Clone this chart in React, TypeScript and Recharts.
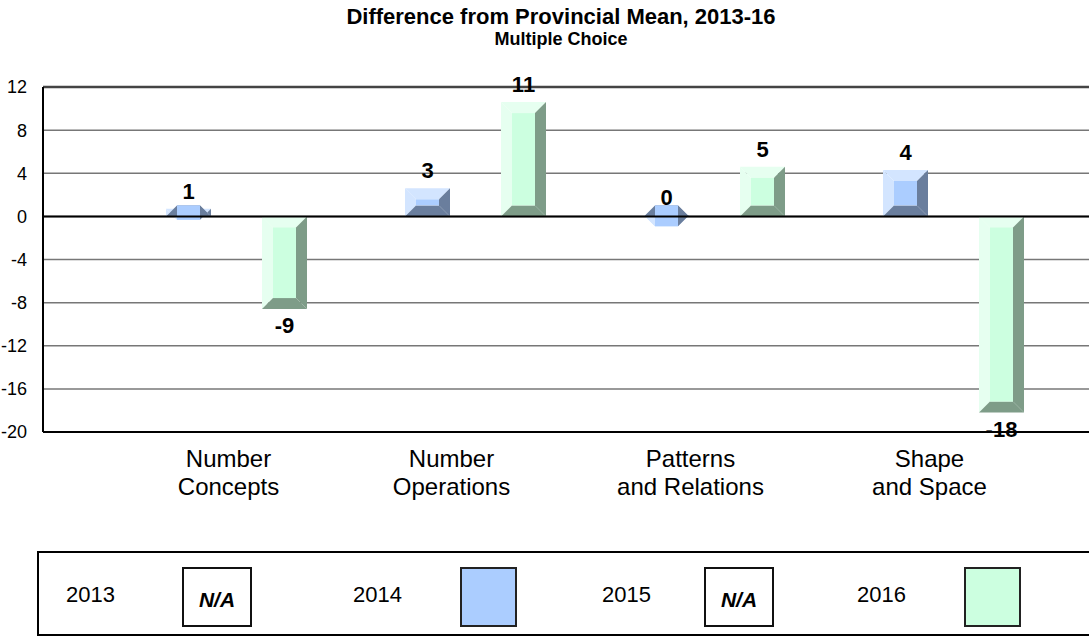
import React from 'react';
import { BarChart, Bar, XAxis, YAxis, CartesianGrid, ReferenceLine, LabelList } from 'recharts';

// categories and series values
const categories = ['Number\nConcepts', 'Number\nOperations', 'Patterns\nand Relations', 'Shape\nand Space'];
const years = ['2013', '2014', '2015', '2016'];
const values2013: (number | null)[] = [null, null, null, null];
const values2014: (number | null)[] = [0.7, 2.6, 0.1, 4.3];
const values2015: (number | null)[] = [null, null, null, null];
const values2016: (number | null)[] = [-8.6, 10.6, 4.6, -18.2];
const yTicks = [12, 8, 4, 0, -4, -8, -12, -16, -20];

const data = categories.map((name, i) => ({
  name,
  y2013: values2013[i],
  y2014: values2014[i],
  y2015: values2015[i],
  y2016: values2016[i],
}));

const FONT = "'Liberation Sans', Arial, Helvetica, sans-serif";

const blue = { mid: '#abcdff', light: '#d3e5ff', dark: '#6a7e9d' };
const green = { mid: '#ccffe0', light: '#e6fff0', dark: '#7e9c88' };

// Excel-style bevelled bar: light top/left, dark bottom/right
const bevelShape = (pal: { mid: string; light: string; dark: string }) => (props: any) => {
  const { x, y, width, height } = props;
  if (x == null || y == null || width == null || height == null) return null;
  const top = Math.min(y, y + height);
  const bot = Math.max(y, y + height);
  const l = x;
  const r = x + width;
  const b = 11;
  const it = top + b;
  const ib = bot - b;
  const il = l + b;
  const ir = r - b;
  return (
    <g>
      <polygon points={`${l},${top} ${r},${top} ${ir},${it} ${il},${it}`} fill={pal.light} />
      <polygon points={`${l},${top} ${il},${it} ${il},${ib} ${l},${bot}`} fill={pal.light} />
      <polygon points={`${r},${top} ${r},${bot} ${ir},${ib} ${ir},${it}`} fill={pal.dark} />
      <polygon points={`${l},${bot} ${r},${bot} ${ir},${ib} ${il},${ib}`} fill={pal.dark} />
      <rect x={il} y={Math.min(it, ib)} width={ir - il} height={Math.abs(ib - it)} fill={pal.mid} />
    </g>
  );
};

const valueLabel = (props: any) => {
  const { x, y, width, height, value } = props;
  if (value == null || x == null) return null;
  const top = Math.min(y, y + height);
  const bot = Math.max(y, y + height);
  const neg = value < 0;
  return (
    <text
      x={x + width / 2}
      y={neg ? bot + 24 : top - 10}
      textAnchor="middle"
      fontFamily={FONT}
      fontSize={22}
      fontWeight="bold"
      fill="#000"
    >
      {Math.round(value)}
    </text>
  );
};

const CategoryTick = (props: any) => {
  const { x, y, payload, index } = props;
  const lines = String(payload.value).split('\n');
  const cx = x + (index === 0 ? 16 : 0);
  return (
    <text textAnchor="middle" fontFamily={FONT} fontSize={24} fill="#000">
      {lines.map((line, i) => (
        <tspan key={i} x={cx} y={y + 35 + i * 28}>
          {line}
        </tspan>
      ))}
    </text>
  );
};

const legendText: React.CSSProperties = {
  position: 'absolute',
  top: 582,
  fontFamily: FONT,
  fontSize: 22,
  color: '#000',
};

const naBox = (left: number): React.CSSProperties => ({
  position: 'absolute',
  left,
  top: 567,
  width: 70,
  height: 60,
  border: '2px solid #111',
  fontFamily: FONT,
  fontSize: 21,
  fontWeight: 'bold',
  fontStyle: 'italic',
  display: 'flex',
  alignItems: 'center',
  justifyContent: 'center',
  paddingTop: 6,
  boxSizing: 'border-box',
});

const colorBox = (left: number, fill: string): React.CSSProperties => ({
  position: 'absolute',
  left,
  top: 567,
  width: 57,
  height: 60,
  border: '2px solid #222',
  background: fill,
  boxSizing: 'border-box',
});

export default function App() {
  return (
    <div style={{ position: 'absolute', left: 0, top: 0, width: 1089, height: 637, overflow: 'hidden', background: '#fff' }}>
      <div style={{ position: 'absolute', left: 0, width: 1122, top: 5, textAlign: 'center', fontFamily: FONT, fontWeight: 'bold', fontSize: 22, lineHeight: '24px' }}>
        Difference from Provincial Mean, 2013-16
      </div>
      <div style={{ position: 'absolute', left: 0, width: 1122, top: 29, textAlign: 'center', fontFamily: FONT, fontWeight: 'bold', fontSize: 18, lineHeight: '20px' }}>
        Multiple Choice
      </div>

      <BarChart
        width={1089}
        height={637}
        data={data}
        margin={{ top: 87, right: 0, bottom: 125, left: 0 }}
        barSize={45}
        barGap={3}
        style={{ position: 'absolute', left: 0, top: 0 }}
      >
        <CartesianGrid horizontal vertical={false} stroke="#777" strokeWidth={1.5} />
        <XAxis
          dataKey="name"
          interval={0}
          height={80}
          padding={{ left: 50, right: 40 }}
          axisLine={{ stroke: '#000', strokeWidth: 2 }}
          tickLine={false}
          tickSize={0}
          tickMargin={0}
          tick={<CategoryTick />}
        />
        <YAxis
          width={43}
          domain={[-20, 12]}
          ticks={yTicks}
          interval={0}
          tickLine={false}
          tickMargin={10}
          axisLine={{ stroke: '#000', strokeWidth: 2 }}
          tick={{ fontFamily: FONT, fontSize: 18, fill: '#000' }}
        />
        <ReferenceLine y={0} stroke="#000" strokeWidth={2} />
        <ReferenceLine y={12} stroke="#444" strokeWidth={2.5} />
        <Bar dataKey="y2013" name={years[0]} isAnimationActive={false} />
        <Bar dataKey="y2014" name={years[1]} isAnimationActive={false} shape={bevelShape(blue)}>
          <LabelList dataKey="y2014" content={valueLabel} />
        </Bar>
        <Bar dataKey="y2015" name={years[2]} isAnimationActive={false} />
        <Bar dataKey="y2016" name={years[3]} isAnimationActive={false} shape={bevelShape(green)}>
          <LabelList dataKey="y2016" content={valueLabel} />
        </Bar>
      </BarChart>

      <div style={{ position: 'absolute', left: 37, top: 551, width: 1100, height: 85, border: '2px solid #000', boxSizing: 'border-box' }} />
      <div style={{ ...legendText, left: 66 }}>{years[0]}</div>
      <div style={naBox(182)}>N/A</div>
      <div style={{ ...legendText, left: 353 }}>{years[1]}</div>
      <div style={colorBox(460, blue.mid)} />
      <div style={{ ...legendText, left: 602 }}>{years[2]}</div>
      <div style={naBox(704)}>N/A</div>
      <div style={{ ...legendText, left: 857 }}>{years[3]}</div>
      <div style={colorBox(964, green.mid)} />
    </div>
  );
}
